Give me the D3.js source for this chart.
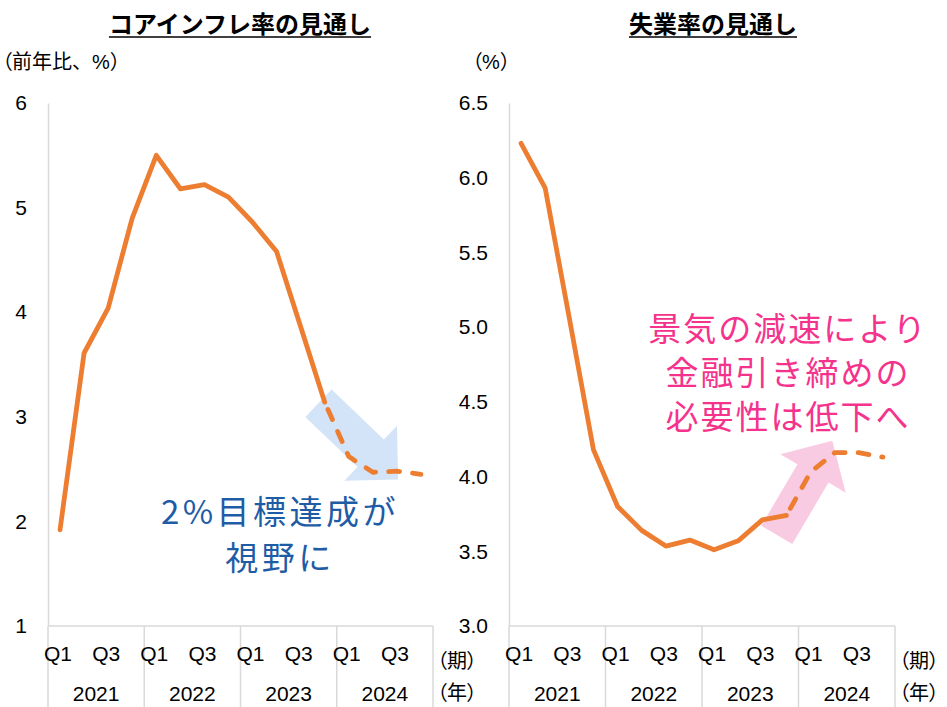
<!DOCTYPE html>
<html>
<head>
<meta charset="utf-8">
<title>見通し</title>
<script src="https://cdn.jsdelivr.net/npm/d3@7"></script>
<style>
  body { margin: 0; background: #fff; }
  text { font-family: "Liberation Sans", "Noto Sans CJK JP", sans-serif; }
  .palt { font-feature-settings: "palt"; }
</style>
</head>
<body>
<svg id="chart" width="947" height="707"></svg>
<script>
// quarters and years on the category axis
var quarters = ["Q1","Q2","Q3","Q4","Q1","Q2","Q3","Q4","Q1","Q2","Q3","Q4","Q1","Q2","Q3","Q4"];
var quarterLabels = ["Q1", "", "Q3", ""];
var years = ["2021", "2022", "2023", "2024"];

// core inflation, % y/y (forecast from index 11 on)
var inflation = [1.92, 3.61, 4.04, 4.90, 5.50, 5.18, 5.22, 5.10, 4.86, 4.58, 3.86, 3.14, 2.62, 2.47, 2.48, 2.45];
// unemployment rate, % (forecast from index 11 on)
var unemployment = [6.23, 5.93, 5.06, 4.18, 3.80, 3.64, 3.535, 3.575, 3.51, 3.57, 3.71, 3.74, 4.03, 4.16, 4.16, 4.13];
var forecastFrom = 11;

var inflTicks = [1, 2, 3, 4, 5, 6];
var unempTicks = [3.0, 3.5, 4.0, 4.5, 5.0, 5.5, 6.0, 6.5];

var svg = d3.select("#chart");
var orange = "#ed7d31", grid = "#d9d9d9";

// draws one panel
function panel(o) {
  var g = svg.append("g");

  var x = d3.scalePoint()
      .domain(d3.range(quarters.length))
      .range([o.left, o.right])
      .padding(0.5);
  var step = x.step();

  var y = d3.scaleLinear()
      .domain(o.domain)
      .range([626, 103]);

  // title, bold and underlined
  var t = g.append("text")
      .attr("x", o.titleX).attr("y", 33)
      .attr("text-anchor", "middle")
      .style("font-size", "24px")
      .style("font-weight", "bold")
      .style("fill", "#000")
      .text(o.title);
  var bb = t.node().getBBox();
  g.append("line")
      .attr("x1", bb.x).attr("x2", bb.x + bb.width)
      .attr("y1", 37).attr("y2", 37)
      .attr("stroke", "#000").attr("stroke-width", 1.5);

  // unit (opening bracket set half width)
  var ut = g.append("text")
      .attr("x", o.unitX).attr("y", 69)
      .style("font-size", "20px")
      .style("fill", "#000");
  ut.append("tspan").attr("class", "palt").text(o.unit.slice(0, 1));
  ut.append("tspan").text(o.unit.slice(1));

  // y axis
  var yAxis = g.append("g")
      .attr("transform", "translate(" + o.left + ",0)")
      .call(d3.axisLeft(y).tickValues(o.ticks).tickFormat(o.fmt).tickSize(0).tickSizeOuter(0).tickPadding(21));
  yAxis.select(".domain").attr("stroke", grid).attr("stroke-width", 1.5);
  yAxis.selectAll("text")
      .style("font-size", "21px")
      .style("font-family", "'Liberation Sans', sans-serif")
      .style("fill", "#000");

  // x axis line and year separators
  g.append("line")
      .attr("x1", o.left).attr("x2", o.right)
      .attr("y1", y(o.domain[0])).attr("y2", y(o.domain[0]))
      .attr("stroke", grid).attr("stroke-width", 1.5);
  g.selectAll(".sep")
    .data(d3.range(years.length + 1))
    .enter().append("line")
      .attr("x1", function(d) { return o.left + d * 4 * step; })
      .attr("x2", function(d) { return o.left + d * 4 * step; })
      .attr("y1", y(o.domain[0])).attr("y2", 707)
      .attr("stroke", grid).attr("stroke-width", 1.5);

  g.selectAll(".q")
    .data(quarters)
    .enter().append("text")
      .attr("x", function(d, i) { return x(i) - 2; })
      .attr("y", 661)
      .attr("text-anchor", "middle")
      .style("font-size", "21px")
      .style("fill", "#000")
      .text(function(d, i) { return quarterLabels[i % 4]; });

  g.selectAll(".yr")
    .data(years)
    .enter().append("text")
      .attr("x", function(d, i) { return o.left + (i * 4 + 2) * step; })
      .attr("y", 701)
      .attr("text-anchor", "middle")
      .style("font-size", "21px")
      .style("fill", "#000")
      .text(function(d) { return d; });

  g.append("text").attr("class", "palt").attr("x", o.right + 4).attr("y", 668)
      .style("font-size", "20px").style("fill", "#000").text("（期）");
  g.append("text").attr("class", "palt").attr("x", o.right + 4).attr("y", 700)
      .style("font-size", "20px").style("fill", "#000").text("（年）");

  // arrow under the line
  var a = o.arrow;
  var p0 = [x(0) + a.from[0] * step, y(a.from[1])];
  var p1 = [x(0) + a.to[0] * step, y(a.to[1])];
  var dx = p1[0] - p0[0], dy = p1[1] - p0[1], len = Math.sqrt(dx * dx + dy * dy);
  var u = [dx / len, dy / len], n = [-u[1], u[0]];
  var base = [p1[0] - u[0] * a.head, p1[1] - u[1] * a.head];
  function off(p, k) { return [p[0] + n[0] * k, p[1] + n[1] * k]; }
  var pts = [off(p0, a.shaft / 2), off(base, a.shaft / 2), off(base, a.width / 2), p1,
             off(base, -a.width / 2), off(base, -a.shaft / 2), off(p0, -a.shaft / 2)];
  g.append("polygon")
      .attr("points", pts.map(function(p) { return p.join(","); }).join(" "))
      .attr("fill", a.color);

  // lines: actual (solid) and forecast (dashed)
  var line = d3.line()
      .x(function(d) { return x(d.i); })
      .y(function(d) { return y(d.v); });
  var pts2 = o.values.map(function(v, i) { return {i: i, v: v}; });

  g.append("path")
      .datum(pts2.slice(0, forecastFrom + 1))
      .attr("d", line)
      .attr("fill", "none")
      .attr("stroke", orange)
      .attr("stroke-width", 4.8)
      .attr("stroke-linejoin", "round")
      .attr("stroke-linecap", "round");
  g.append("path")
      .datum(pts2.slice(forecastFrom))
      .attr("d", line)
      .attr("fill", "none")
      .attr("stroke", orange)
      .attr("stroke-width", 4.8)
      .attr("stroke-dasharray", "11,13")
      .attr("stroke-dashoffset", -8)
      .attr("stroke-linejoin", "round")
      .attr("stroke-linecap", "round");

  // note
  g.selectAll(".note")
    .data(o.note)
    .enter().append("text")
      .attr("x", o.noteX)
      .attr("y", function(d, i) { return o.noteY + i * o.noteGap; })
      .attr("text-anchor", "middle")
      .attr("dominant-baseline", "central")
      .style("font-family", "'Noto Sans CJK JP', sans-serif")
      .style("font-size", "33px")
      .style("letter-spacing", o.noteSpacing)
      .style("fill", o.noteColor)
      .text(function(d) { return d; });
}

panel({
  title: "コアインフレ率の見通し", titleX: 240,
  unit: "（前年比、%）", unitX: 2,
  left: 48, right: 433,
  domain: [1, 6], ticks: inflTicks, fmt: d3.format("d"),
  values: inflation,
  arrow: {from: [10.74, 3.13], to: [14.05, 2.40], shaft: 38, width: 76, head: 38, color: "#d3e4f8"},
  note: ["2%目標達成が", "視野に"], noteX: 280, noteY: 510, noteGap: 46, noteColor: "#1f5ca6", noteSpacing: "3.5px"
});

panel({
  title: "失業率の見通し", titleX: 713,
  unit: "（%）", unitX: 472,
  left: 509, right: 895,
  domain: [3.0, 6.5], ticks: unempTicks, fmt: d3.format(".1f"),
  values: unemployment,
  arrow: {from: [10.6, 3.61], to: [12.9, 4.24], shaft: 36, width: 76, head: 38, color: "#f9cbe2"},
  note: ["景気の減速により", "金融引き締めの", "必要性は低下へ"], noteX: 788, noteY: 327, noteGap: 44, noteColor: "#f5338c", noteSpacing: "2px"
});
</script>
</body>
</html>
